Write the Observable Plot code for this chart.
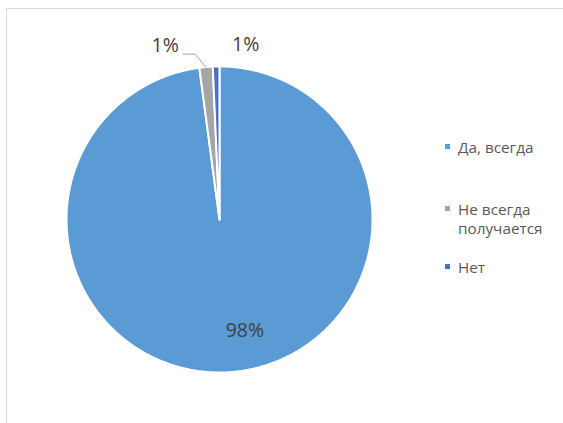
<!DOCTYPE html>
<html>
<head>
<meta charset="utf-8">
<script src="https://cdn.jsdelivr.net/npm/d3@7"></script>
<script src="https://cdn.jsdelivr.net/npm/@observablehq/plot@0.6"></script>
<style>
  body { margin: 0; background: #fff; }
  #wrap { position: relative; width: 563px; height: 423px; overflow: hidden; font-family: "Open Sans", sans-serif; }
  #frame { position: absolute; left: 6px; top: 8px; width: 600px; height: 500px; border-left: 1.5px solid #D9D9D9; border-top: 1.5px solid #D9D9D9; box-sizing: border-box; }
  #chart { position: absolute; left: 0; top: 0; }
  #legend { position: absolute; left: 444px; top: 138px; font-size: 15.3px; color: #595959; line-height: 19px; }
  .item { position: relative; padding-left: 14px; }
  .sw { position: absolute; left: 1px; top: 6px; width: 5px; height: 5px; }
</style>
</head>
<body>
<div id="wrap"><div id="frame"></div><div id="chart"></div><div id="legend"></div></div>
<script>
const categories = ["Да, всегда", "Не всегда получается", "Нет"];
const values = [97.9, 1.4, 0.7];
const labels = ["98%", "1%", "1%"];
const colors = ["#5B9BD5", "#A5A5A5", "#4472C4"];
const legendLines = [["Да, всегда"], ["Не всегда", "получается"], ["Нет"]];

const total = d3.sum(values);
let acc = 0;
const slices = categories.map((name, i) => {
  const a0 = acc / total * 2 * Math.PI;
  acc += values[i];
  const a1 = acc / total * 2 * Math.PI;
  return {name, value: values[i], label: labels[i], a0, a1, mid: (a0 + a1) / 2};
});

const pts = [];
for (const s of slices) {
  pts.push({name: s.name, x: 0, y: 0});
  const n = Math.max(2, Math.ceil((s.a1 - s.a0) / 0.01));
  for (let k = 0; k <= n; k++) {
    const a = s.a0 + (s.a1 - s.a0) * k / n;
    pts.push({name: s.name, x: Math.sin(a), y: Math.cos(a)});
  }
}

const R = 153;
const at = (s, r) => ({label: s.label, x: r * Math.sin(s.mid), y: r * Math.cos(s.mid)});
const g = slices[1];
const ex = Math.sin(g.mid), ey = Math.cos(g.mid);
const leader = [
  {x: ex, y: ey},
  {x: ex - 11 / R, y: ey + 13 / R},
  {x: ex - 23 / R, y: ey + 13 / R}
];

const textStyle = {x: "x", y: "y", text: "label", fill: "#404040", fontSize: 19.5, fontFamily: "Open Sans, sans-serif"};
const plot = Plot.plot({
  width: 563, height: 423,
  margin: 0,
  style: {background: "transparent"},
  x: {domain: [-219 / R, 344 / R], axis: null},
  y: {domain: [-204 / R, 219 / R], axis: null},
  color: {domain: categories, range: colors},
  marks: [
    Plot.line(pts, {x: "x", y: "y", z: "name", fill: "name", stroke: "white", strokeWidth: 2, curve: "linear-closed"}),
    Plot.line(leader, {x: "x", y: "y", stroke: "#A5A5A5", strokeWidth: 1}),
    Plot.text([at(slices[0], 0.73)], {...textStyle, dx: 18}),
    Plot.text([at(slices[1], 1.14)], {...textStyle, dx: -39}),
    Plot.text([at(slices[2], 1.14)], {...textStyle, dx: 30})
  ]
});
document.getElementById("chart").appendChild(plot);

const gaps = [43, 20, 0];
const legend = document.getElementById("legend");
categories.forEach((c, i) => {
  const item = document.createElement("div");
  item.className = "item";
  item.style.marginBottom = gaps[i] + "px";
  item.innerHTML = `<span class="sw" style="background:${colors[i]}"></span>` + legendLines[i].join("<br>");
  legend.appendChild(item);
});
</script>
</body>
</html>
